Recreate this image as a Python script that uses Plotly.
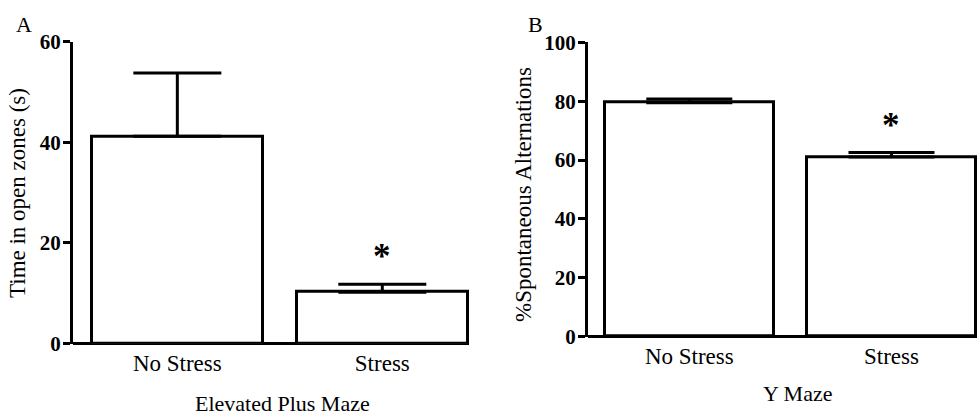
import plotly.graph_objects as go

W, H = 979, 417

categories = ["No Stress", "Stress"]

# Panel A: Elevated Plus Maze
epm_means = [41.2, 10.2]
epm_sem = [12.6, 1.6]

# Panel B: Y Maze
ym_means = [79.5, 61.0]
ym_sem = [1.2, 1.6]

y_ticks_a = [0, 20, 40, 60]
y_ticks_b = [0, 20, 40, 60, 80, 100]

FONT = "Liberation Serif, Times New Roman, serif"

def px_x(p):
    return p / W

def px_y(p):
    return (H - p) / H

fig = go.Figure()

fig.add_trace(go.Bar(
    x=categories, y=epm_means, width=0.834,
    marker=dict(color="white", line=dict(color="black", width=3)),
    error_y=dict(type="data", array=epm_sem, arrayminus=[0, 0], symmetric=False,
                 thickness=3, width=44, color="black"),
    xaxis="x", yaxis="y", showlegend=False, hoverinfo="skip"))

fig.add_trace(go.Bar(
    x=categories, y=ym_means, width=0.834,
    marker=dict(color="white", line=dict(color="black", width=3)),
    error_y=dict(type="data", array=ym_sem, arrayminus=[0, 0], symmetric=False,
                 thickness=3, width=43, color="black"),
    xaxis="x2", yaxis="y2", showlegend=False, hoverinfo="skip"))

axis_common_x = dict(showline=False, ticks="", automargin=False,
                     showgrid=False, zeroline=False, ticklabelstandoff=3,
                     tickfont=dict(family=FONT, size=23, color="black"))
axis_common_y = dict(showline=True, linecolor="black", linewidth=3, ticks="outside",
                     ticklen=7, tickwidth=3, tickcolor="black", automargin=False,
                     showgrid=False, zeroline=True, zerolinecolor="black",
                     zerolinewidth=3, ticklabelstandoff=-2,
                     tickfont=dict(family=FONT, size=21, color="black"))

fig.update_layout(
    template="none",
    width=W, height=H,
    margin=dict(l=0, r=0, t=0, b=0, pad=0, autoexpand=False),
    paper_bgcolor="white", plot_bgcolor="white",
    showlegend=False,
    bargap=0,
    xaxis=dict(domain=[px_x(73), px_x(469)], range=[-0.509, 1.423], anchor="y",
               **axis_common_x),
    yaxis=dict(domain=[px_y(343.5), px_y(41.7)], range=[0, 60], anchor="x",
               tickvals=y_ticks_a, ticktext=[f"<b>{v}</b>" for v in y_ticks_a],
               **axis_common_y),
    xaxis2=dict(domain=[px_x(588), px_x(977)], range=[-0.501, 1.423], anchor="y2",
                **axis_common_x),
    yaxis2=dict(domain=[px_y(336.7), px_y(42.3)], range=[0, 100], anchor="x2",
                tickvals=y_ticks_b, ticktext=[f"<b>{v}</b>" for v in y_ticks_b],
                **axis_common_y),
)

ann = []
def text(x, y, s, size=23, angle=0, yanchor="middle"):
    ann.append(dict(x=px_x(x), y=px_y(y), xref="paper", yref="paper",
                    text=s, showarrow=False, borderpad=0,
                    xanchor="center", yanchor=yanchor, textangle=angle,
                    font=dict(family=FONT, size=size, color="black")))

text(24, 25, "A", 22)
text(535, 25, "B", 22)
text(282, 417, "Elevated Plus Maze", 22, yanchor="bottom")
text(797, 393, "Y Maze", 22)
text(17, 193, "Time in open zones (s)", 23, angle=-90)
text(523, 195, "%Spontaneous Alternations", 23, angle=-90)

# significance stars above the Stress error bars
ann.append(dict(x=categories[1], y=epm_means[1] + epm_sem[1], xref="x", yref="y",
                text="<b>*</b>", showarrow=False, yanchor="middle", yshift=28,
                font=dict(family=FONT, size=35, color="black")))
ann.append(dict(x=categories[1], y=ym_means[1] + ym_sem[1], xref="x2", yref="y2",
                text="<b>*</b>", showarrow=False, yanchor="middle", yshift=27,
                font=dict(family=FONT, size=35, color="black")))

fig.update_layout(annotations=ann)

fig.write_html("out.html")
